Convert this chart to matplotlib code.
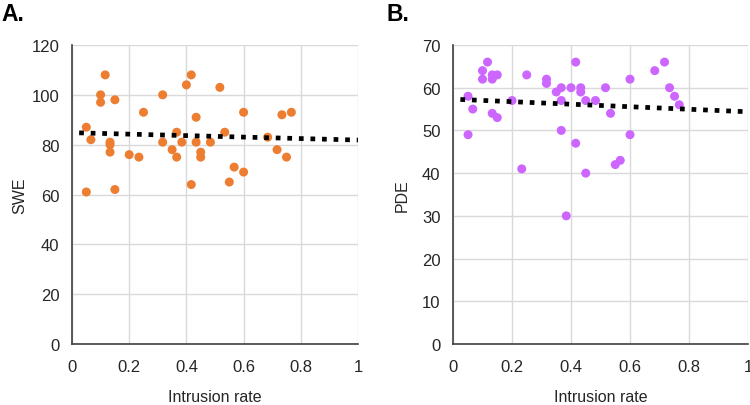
import numpy as np
import matplotlib
matplotlib.use("Agg")
from matplotlib import pyplot as plt

plt.rcParams['font.family'] = ['Liberation Sans', 'DejaVu Sans']

# panel A: intrusion rate vs SWE
swe_x = [0.05, 0.05, 0.066, 0.1, 0.1, 0.116, 0.133, 0.133, 0.133, 0.15, 0.15, 0.2, 0.234, 0.25,
         0.317, 0.317, 0.35, 0.366, 0.366, 0.384, 0.4, 0.417, 0.417, 0.434, 0.434, 0.45, 0.45,
         0.484, 0.517, 0.534, 0.55, 0.567, 0.6, 0.6, 0.684, 0.717, 0.734, 0.75, 0.767]
swe_y = [87, 61, 82, 100, 97, 108, 81, 80, 77, 98, 62, 76, 75, 93,
         100, 81, 78, 85, 75, 81, 104, 108, 64, 91, 81, 77, 75,
         81, 103, 85, 65, 71, 93, 69, 83, 78, 92, 75, 93]

# panel B: intrusion rate vs PDE
pde_x = [0.051, 0.051, 0.067, 0.1, 0.1, 0.117, 0.133, 0.133, 0.133, 0.15, 0.15, 0.2, 0.233, 0.25,
         0.317, 0.317, 0.35, 0.367, 0.367, 0.367, 0.384, 0.4, 0.416, 0.416, 0.433, 0.433, 0.45, 0.45,
         0.483, 0.517, 0.534, 0.55, 0.567, 0.6, 0.6, 0.684, 0.717, 0.734, 0.751, 0.767]
pde_y = [58, 49, 55, 64, 62, 66, 63, 62, 54, 63, 53, 57, 41, 63,
         62, 61, 59, 60, 57, 50, 30, 60, 66, 47, 60, 59, 57, 40,
         57, 60, 54, 42, 43, 62, 49, 64, 66, 60, 58, 56]

fig = plt.figure(figsize=(7.5, 4.06), dpi=100)
W, H = 750, 406


def panel(rect, x, y, color, ylabel, ymax, letter, letter_x, ylabel_x):
    l, t, r, b = rect
    ax = fig.add_axes([l / W, 1 - b / H, (r - l) / W, (b - t) / H])
    ax.scatter(x, y, s=42, color=color, edgecolors='none', zorder=3)
    k, c = np.polyfit(x, y, 1)
    tx = np.array([0.025, 1.0])
    ax.plot(tx, k * tx + c, color='black', lw=3.4, linestyle=(0, (1, 1.45)),
            dash_capstyle='butt', zorder=4)
    ax.set_xlim(0, 1)
    ax.set_ylim(0, ymax)
    ax.set_xticks(np.arange(0, 1.01, 0.2))
    ax.set_xticklabels(['0', '0.2', '0.4', '0.6', '0.8', '1'])
    ax.grid(True, color='#d9d9d9', lw=1)
    ax.set_axisbelow(True)
    for s in ['top', 'right']:
        ax.spines[s].set_visible(False)
    for s in ['left', 'bottom']:
        ax.spines[s].set_color('#404040')
        ax.spines[s].set_linewidth(1.2)
    ax.tick_params(axis='y', length=0, labelsize=12, colors='#262626', pad=9)
    ax.tick_params(axis='x', length=0, labelsize=12, colors='#262626', pad=11)
    ax.set_xlabel('Intrusion rate', fontsize=11.5, color='#262626')
    ax.set_ylabel(ylabel, fontsize=11.5, color='#262626')
    ax.xaxis.set_label_coords(0.5, (b - 398) / (b - t))
    ax.xaxis.label.set_va('center')
    ax.yaxis.set_label_coords((ylabel_x - l) / (r - l), 0.5)
    ax.yaxis.label.set_va('center')
    fig.text(letter_x / W, 1 - 3 / H, letter, fontsize=16.5, fontweight='bold',
             va='top', ha='left')
    return ax


panel((72, 46, 358, 345), swe_x, swe_y, '#ED7D31', 'SWE', 120, 'A.', 1, 20)
panel((453, 46, 748, 345), pde_x, pde_y, '#CC66FF', 'PDE', 70, 'B.', 386, 402)

fig.savefig('out.png', dpi=100)
